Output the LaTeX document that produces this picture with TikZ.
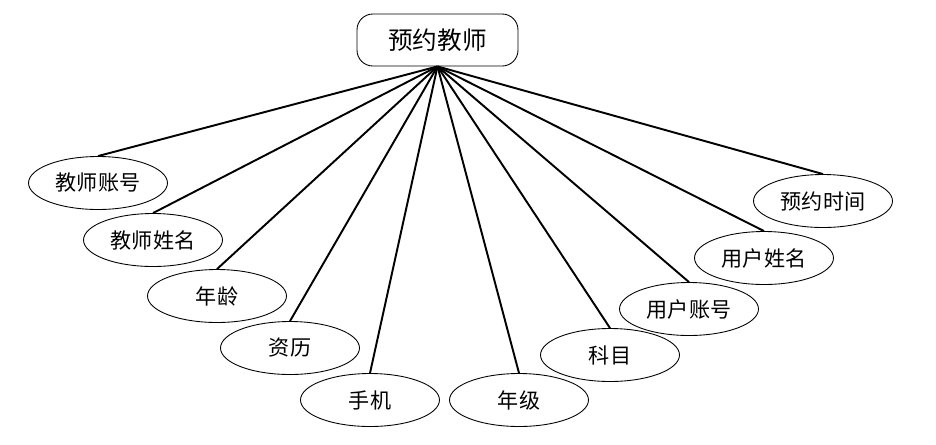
\documentclass[tikz,border=0pt]{standalone}
\usepackage{fontspec}
\setmainfont{Noto Sans CJK SC}
\usetikzlibrary{shapes.geometric}

\begin{document}
\begin{tikzpicture}[x=0.02cm,y=-0.02cm,
  attr/.style={draw, ellipse, line width=0.5pt, minimum width=2.78cm, minimum height=1.06cm, inner sep=0pt, font=\fontsize{12}{14}\selectfont},
  link/.style={line width=1.1pt}]

% Canvas
\useasboundingbox (0,0) rectangle (936,444);

% Entity
\node[draw, rounded corners=9pt, line width=0.5pt, minimum width=3.22cm, minimum height=1.04cm, inner sep=0pt, font=\fontsize{14}{16}\selectfont] (T) at (437.5,40) {预约教师};

% Attributes
\node[attr] (A1) at (98,183) {教师账号};
\node[attr] (A2) at (153,240) {教师姓名};
\node[attr] (A3) at (217,296) {年龄};
\node[attr] (A4) at (290,348) {资历};
\node[attr] (A5) at (370,400) {手机};
\node[attr] (A6) at (519,400) {年级};
\node[attr] (A7) at (610,355) {科目};
\node[attr] (A8) at (689,309) {用户账号};
\node[attr] (A9) at (764,258) {用户姓名};
\node[attr] (A10) at (823,201) {预约时间};

% Links
\draw[link] (T.south) -- (A1.north);
\draw[link] (T.south) -- (A2.north);
\draw[link] (T.south) -- (A3.north);
\draw[link] (T.south) -- (A4.north);
\draw[link] (T.south) -- (A5.north);
\draw[link] (T.south) -- (A6.north);
\draw[link] (T.south) -- (A7.north);
\draw[link] (T.south) -- (A8.north);
\draw[link] (T.south) -- (A9.north);
\draw[link] (T.south) -- (A10.north);

\end{tikzpicture}
\end{document}
